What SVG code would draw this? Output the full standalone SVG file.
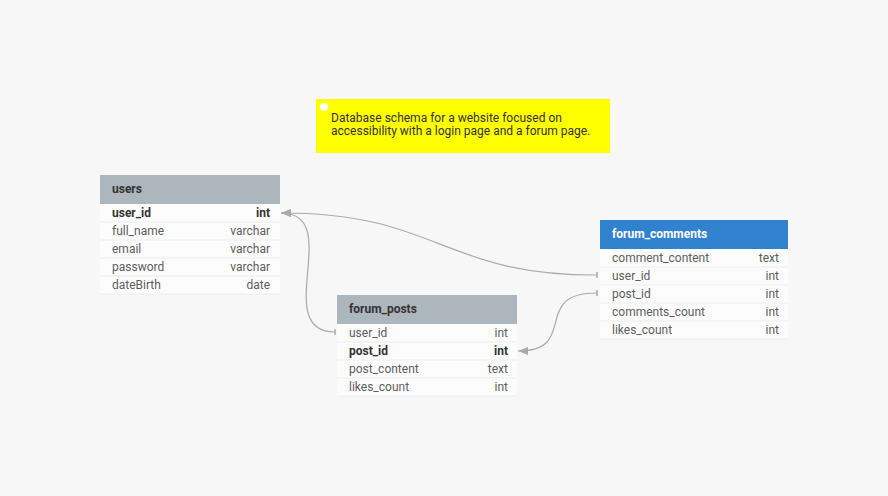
<svg xmlns="http://www.w3.org/2000/svg" width="888" height="496" viewBox="0 0 888 496">
<style>
text{font-family:Roboto,"Liberation Sans",sans-serif;font-size:12px}
.hd{fill:#adb5bd}
.hdb{fill:#3182ce}
.ht{font-weight:bold;fill:#333}
.htw{font-weight:bold;fill:#fff}
.body{fill:#fcfcfc}
.sep{stroke:#ececec;stroke-width:1}
.f{fill:#5c5c5c}
.pk{fill:#333;font-weight:bold}
.t{text-anchor:end}
.conn{fill:none;stroke:#aaa;stroke-width:1.2}
.note{font-size:12px;fill:#333}
</style>
<defs>
<marker id="arr" markerWidth="10" markerHeight="8" refX="10" refY="4" orient="auto" markerUnits="userSpaceOnUse" viewBox="0 0 10 8">
<path d="M0,0 L10,4 L0,8 Z" fill="#aaa"/>
</marker>
</defs>
<rect width="888" height="496" fill="#f7f7f7"/>

<g id="note">
<rect x="316" y="99" width="294" height="54" fill="#ffff00"/>
<circle cx="324" cy="107" r="4" fill="#fff"/>
<text x="331" y="122" class="note">Database schema for a website focused on</text>
<text x="331" y="135" class="note">accessibility with a login page and a forum page.</text>
</g>

<g id="users">
<rect x="100" y="175" width="180" height="29" class="hd"/>
<text x="112" y="193" class="ht">users</text>
<rect x="100" y="204" width="180" height="90" class="body"/>
<line x1="100" y1="222" x2="280" y2="222" class="sep"/>
<line x1="100" y1="240" x2="280" y2="240" class="sep"/>
<line x1="100" y1="258" x2="280" y2="258" class="sep"/>
<line x1="100" y1="276" x2="280" y2="276" class="sep"/>
<line x1="100" y1="294" x2="280" y2="294" class="sep"/>
<text x="112" y="217" class="pk">user_id</text><text x="270" y="217" class="pk t">int</text>
<text x="112" y="235" class="f">full_name</text><text x="270" y="235" class="f t">varchar</text>
<text x="112" y="253" class="f">email</text><text x="270" y="253" class="f t">varchar</text>
<text x="112" y="271" class="f">password</text><text x="270" y="271" class="f t">varchar</text>
<text x="112" y="289" class="f">dateBirth</text><text x="270" y="289" class="f t">date</text>
</g>

<g id="forum_posts">
<rect x="337" y="295" width="180" height="29" class="hd"/>
<text x="349" y="313" class="ht">forum_posts</text>
<rect x="337" y="324" width="180" height="72" class="body"/>
<line x1="337" y1="342" x2="517" y2="342" class="sep"/>
<line x1="337" y1="360" x2="517" y2="360" class="sep"/>
<line x1="337" y1="378" x2="517" y2="378" class="sep"/>
<line x1="337" y1="396" x2="517" y2="396" class="sep"/>
<text x="349" y="337" class="f">user_id</text><text x="508" y="337" class="f t">int</text>
<text x="349" y="355" class="pk">post_id</text><text x="508" y="355" class="pk t">int</text>
<text x="349" y="373" class="f">post_content</text><text x="508" y="373" class="f t">text</text>
<text x="349" y="391" class="f">likes_count</text><text x="508" y="391" class="f t">int</text>
</g>

<g id="forum_comments">
<rect x="600" y="220" width="188" height="29" class="hdb"/>
<text x="612" y="238" class="htw">forum_comments</text>
<rect x="600" y="249" width="188" height="90" class="body"/>
<line x1="600" y1="267" x2="788" y2="267" class="sep"/>
<line x1="600" y1="285" x2="788" y2="285" class="sep"/>
<line x1="600" y1="303" x2="788" y2="303" class="sep"/>
<line x1="600" y1="321" x2="788" y2="321" class="sep"/>
<line x1="600" y1="339" x2="788" y2="339" class="sep"/>
<text x="612" y="262" class="f">comment_content</text><text x="779" y="262" class="f t">text</text>
<text x="612" y="280" class="f">user_id</text><text x="779" y="280" class="f t">int</text>
<text x="612" y="298" class="f">post_id</text><text x="779" y="298" class="f t">int</text>
<text x="612" y="316" class="f">comments_count</text><text x="779" y="316" class="f t">int</text>
<text x="612" y="334" class="f">likes_count</text><text x="779" y="334" class="f t">int</text>
</g>

<g id="connectors">
<path class="conn" marker-end="url(#arr)" d="M597,275 C440,275 440,213 281,213"/>
<path class="conn" marker-end="url(#arr)" d="M335,332 C270,332 345,213 281,213"/>
<path class="conn" marker-end="url(#arr)" d="M597,293 C530,293 580,351 518,351"/>
<line x1="597" y1="272" x2="597" y2="278" stroke="#aaa" stroke-width="1.5"/>
<line x1="597" y1="290" x2="597" y2="296" stroke="#aaa" stroke-width="1.5"/>
<line x1="335" y1="329" x2="335" y2="335" stroke="#aaa" stroke-width="1.5"/>
</g>
</svg>
